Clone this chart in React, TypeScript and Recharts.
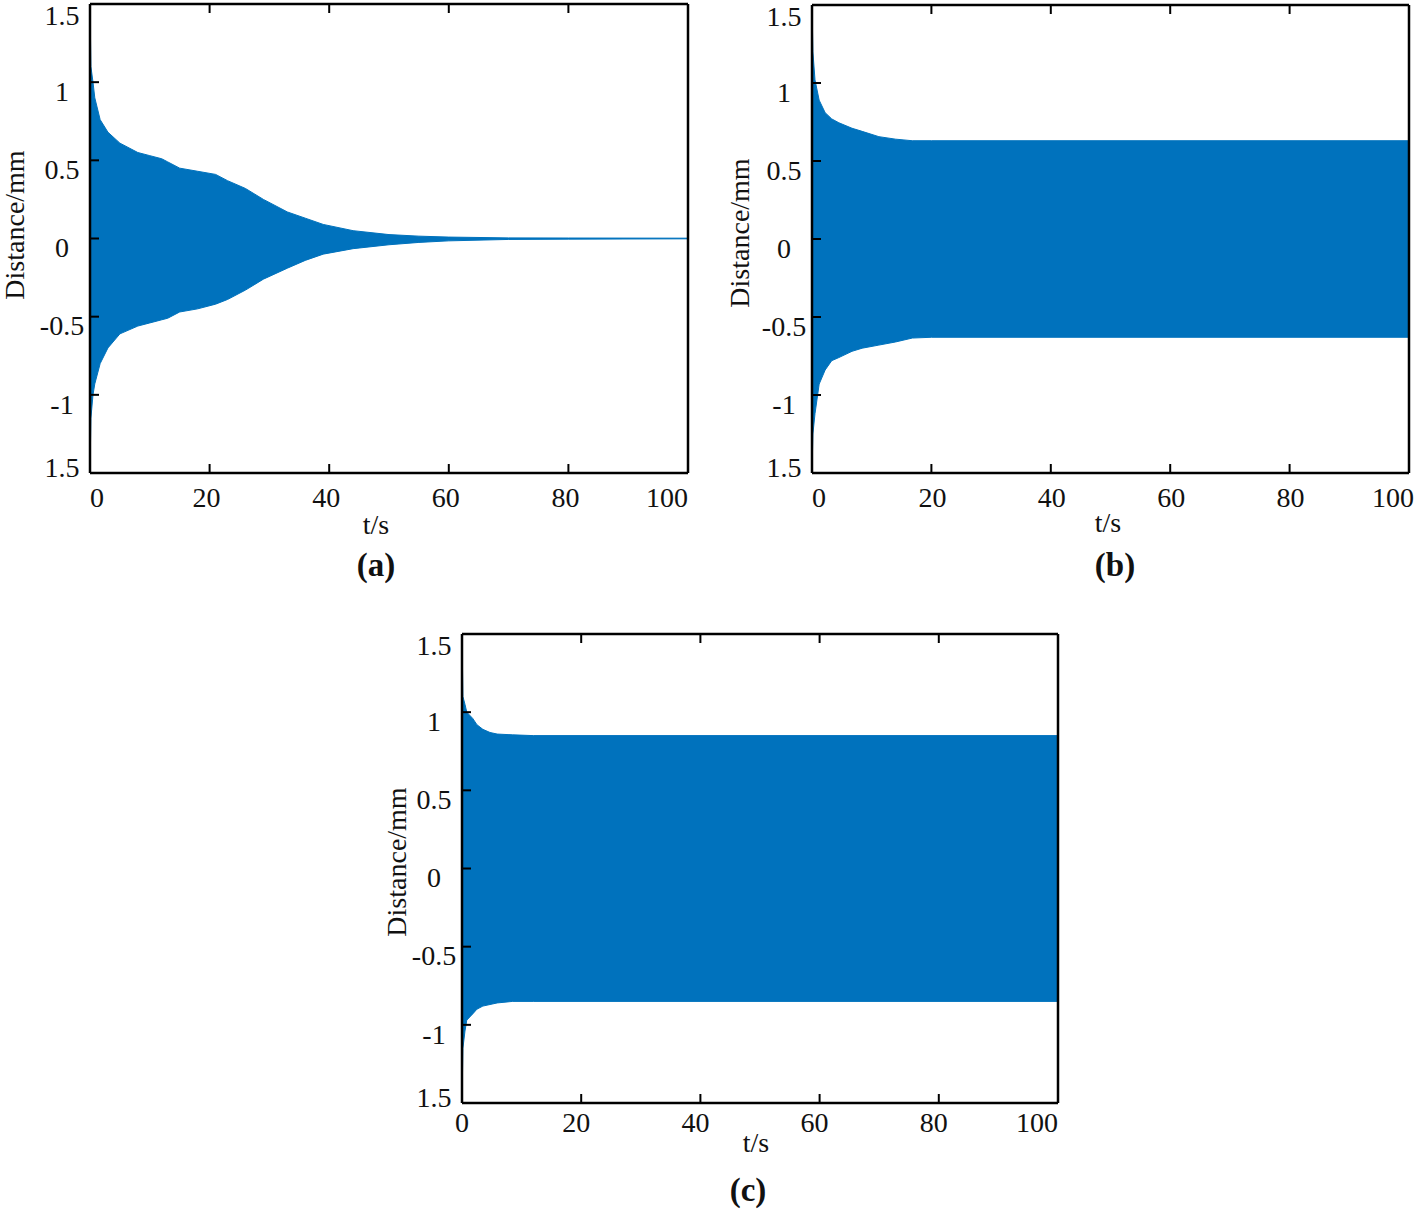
import { ComposedChart, Area, XAxis, YAxis } from 'recharts';

// (a) decaying response
const timeA = [0, 0.15, 0.5, 0.8, 1.7, 3, 5, 8, 10, 12, 13, 15, 18, 21, 23, 26, 29, 33, 36, 39, 44, 50, 55, 60, 70, 80, 100];
const upperA = [1.5, 1.1, 1.0, 0.9, 0.76, 0.68, 0.61, 0.55, 0.53, 0.51, 0.49, 0.45, 0.43, 0.41, 0.37, 0.32, 0.25, 0.17, 0.13, 0.09, 0.05, 0.025, 0.015, 0.009, 0.004, 0.003, 0.002];
const lowerA = [-1.5, -1.15, -1.0, -0.93, -0.8, -0.7, -0.61, -0.56, -0.54, -0.52, -0.51, -0.47, -0.45, -0.42, -0.39, -0.33, -0.26, -0.19, -0.14, -0.1, -0.065, -0.04, -0.025, -0.015, -0.006, -0.004, -0.002];

// (b) settles at ~0.63
const timeB = [0, 0.15, 0.5, 1.2, 2.2, 3.3, 4.5, 6.7, 8.4, 11.2, 14, 16.8, 20, 100];
const upperB = [1.5, 1.2, 1.02, 0.89, 0.81, 0.77, 0.745, 0.71, 0.69, 0.656, 0.64, 0.63, 0.63, 0.63];
const lowerB = [-1.5, -1.25, -1.12, -0.93, -0.84, -0.78, -0.76, -0.72, -0.7, -0.68, -0.66, -0.635, -0.63, -0.63];

// (c) settles at ~0.85
const timeC = [0, 0.15, 0.5, 0.8, 1.8, 2.5, 3.5, 4.7, 5.9, 8.5, 12, 100];
const upperC = [1.5, 1.1, 1.05, 1.0, 0.96, 0.92, 0.89, 0.87, 0.86, 0.855, 0.85, 0.85];
const lowerC = [-1.5, -1.15, -1.04, -0.97, -0.93, -0.9, -0.88, -0.87, -0.86, -0.85, -0.85, -0.85];

const xTicks = [0, 20, 40, 60, 80, 100];
const yTicks = [-1.5, -1, -0.5, 0, 0.5, 1, 1.5];
const yTickLabels = ['1.5', '-1', '-0.5', '0', '0.5', '1', '1.5'];

const FONT = '"Liberation Serif", "Times New Roman", serif';
const BLUE = '#0072BD';
const TICK = 9;
const AXIS = { stroke: '#000', strokeWidth: 2.5 };

type PanelProps = {
  time: number[];
  upper: number[];
  lower: number[];
  box: { x0: number; y0: number; x1: number; y1: number };
  firstStart: boolean;
  midDx: number;
  lastDx: number;
  labelDy: number;
};

function Panel({ time, upper, lower, box, firstStart, midDx, lastDx, labelDy }: PanelProps) {
  const data = time.map((t, i) => ({ t, band: [lower[i], upper[i]] }));
  const ml = 80;
  const mt = Math.min(box.y0, 14);
  const mr = 6;
  const mb = 50;
  const w = box.x1 - box.x0 + ml + mr;
  const h = box.y1 - box.y0 + mt + mb;

  const bottomTick = (p: any) => {
    const last = p.index === xTicks.length - 1;
    const first = p.index === 0;
    const anchor = last ? 'end' : first && firstStart ? 'start' : 'middle';
    const dx = last ? lastDx : first ? 0 : midDx;
    return (
      <g>
        <line x1={p.x} x2={p.x} y1={p.y} y2={p.y - TICK} stroke="#000" strokeWidth={2} />
        <text x={p.x + dx} y={p.y + labelDy} textAnchor={anchor} fontFamily={FONT} fontSize={28} fill="#111">
          {p.payload.value}
        </text>
      </g>
    );
  };
  const leftTick = (p: any) => {
    const idx = yTicks.indexOf(p.payload.value);
    const dy = idx === 0 ? -6 : idx === yTicks.length - 1 ? 11 : 9;
    return (
      <g>
        <line x1={p.x} x2={p.x + TICK} y1={p.y} y2={p.y} stroke="#000" strokeWidth={2} />
        <text x={p.x - 28} y={p.y + dy} dy="0.35em" textAnchor="middle" fontFamily={FONT} fontSize={28} fill="#111">
          {yTickLabels[idx]}
        </text>
      </g>
    );
  };
  const topTick = (p: any) => (
    <line x1={p.x} x2={p.x} y1={p.y} y2={p.y + TICK} stroke="#000" strokeWidth={2} />
  );
  const rightTick = (p: any) => (
    <line x1={p.x} x2={p.x - TICK} y1={p.y} y2={p.y} stroke="#000" strokeWidth={2} />
  );

  return (
    <div style={{ position: 'absolute', left: box.x0 - ml, top: box.y0 - mt }}>
      <ComposedChart width={w} height={h} data={data} margin={{ top: 0, right: 0, left: 0, bottom: 0 }}>
        <XAxis
          dataKey="t"
          type="number"
          domain={[0, 100]}
          ticks={xTicks}
          interval={0}
          height={mb}
          tickSize={0}
          tickMargin={0}
          tickLine={false}
          axisLine={AXIS}
          tick={bottomTick}
        />
        <XAxis
          xAxisId="top"
          orientation="top"
          dataKey="t"
          type="number"
          domain={[0, 100]}
          ticks={xTicks.slice(1, -1)}
          interval={0}
          height={mt}
          tickSize={0}
          tickMargin={0}
          tickLine={false}
          axisLine={AXIS}
          tick={topTick}
        />
        <YAxis
          type="number"
          domain={[-1.5, 1.5]}
          ticks={yTicks}
          interval={0}
          width={ml}
          tickSize={0}
          tickMargin={0}
          tickLine={false}
          axisLine={AXIS}
          tick={leftTick}
        />
        <YAxis
          yAxisId="right"
          orientation="right"
          type="number"
          domain={[-1.5, 1.5]}
          ticks={yTicks.slice(1, -1)}
          interval={0}
          width={mr}
          tickSize={0}
          tickMargin={0}
          tickLine={false}
          axisLine={AXIS}
          tick={rightTick}
        />
        <Area
          dataKey="band"
          type="linear"
          fill={BLUE}
          fillOpacity={1}
          stroke={BLUE}
          strokeWidth={1}
          dot={false}
          activeDot={false}
          isAnimationActive={false}
        />
      </ComposedChart>
    </div>
  );
}

function Txt({ x, y, children, size = 28, bold = false, rotate = false }: any) {
  return (
    <div
      style={{
        position: 'absolute',
        left: x,
        top: y,
        transform: `translate(-50%, -50%)${rotate ? ' rotate(-90deg)' : ''}`,
        fontFamily: FONT,
        fontSize: size,
        fontWeight: bold ? 700 : 400,
        whiteSpace: 'nowrap',
        color: '#111',
        lineHeight: 1,
      }}
    >
      {children}
    </div>
  );
}

export default function App() {
  return (
    <div style={{ position: 'absolute', left: 0, top: 0, width: 1416, height: 1210, background: '#fff', overflow: 'hidden' }}>
      <Panel time={timeA} upper={upperA} lower={lowerA} box={{ x0: 90, y0: 4, x1: 688, y1: 473 }} firstStart midDx={-3} lastDx={0} labelDy={34} />
      <Panel time={timeB} upper={upperB} lower={lowerB} box={{ x0: 812, y0: 5, x1: 1409, y1: 473 }} firstStart midDx={1} lastDx={5} labelDy={34} />
      <Panel time={timeC} upper={upperC} lower={lowerC} box={{ x0: 462, y0: 634, x1: 1058, y1: 1103 }} firstStart={false} midDx={-5} lastDx={0} labelDy={29} />

      <Txt x={15} y={225} rotate>Distance/mm</Txt>
      <Txt x={740} y={233} rotate>Distance/mm</Txt>
      <Txt x={397} y={862} rotate>Distance/mm</Txt>

      <Txt x={376} y={525}>t/s</Txt>
      <Txt x={1108} y={523}>t/s</Txt>
      <Txt x={756} y={1143}>t/s</Txt>

      <Txt x={376} y={565} size={33} bold>(a)</Txt>
      <Txt x={1115} y={565} size={33} bold>(b)</Txt>
      <Txt x={748} y={1190} size={33} bold>(c)</Txt>
    </div>
  );
}
